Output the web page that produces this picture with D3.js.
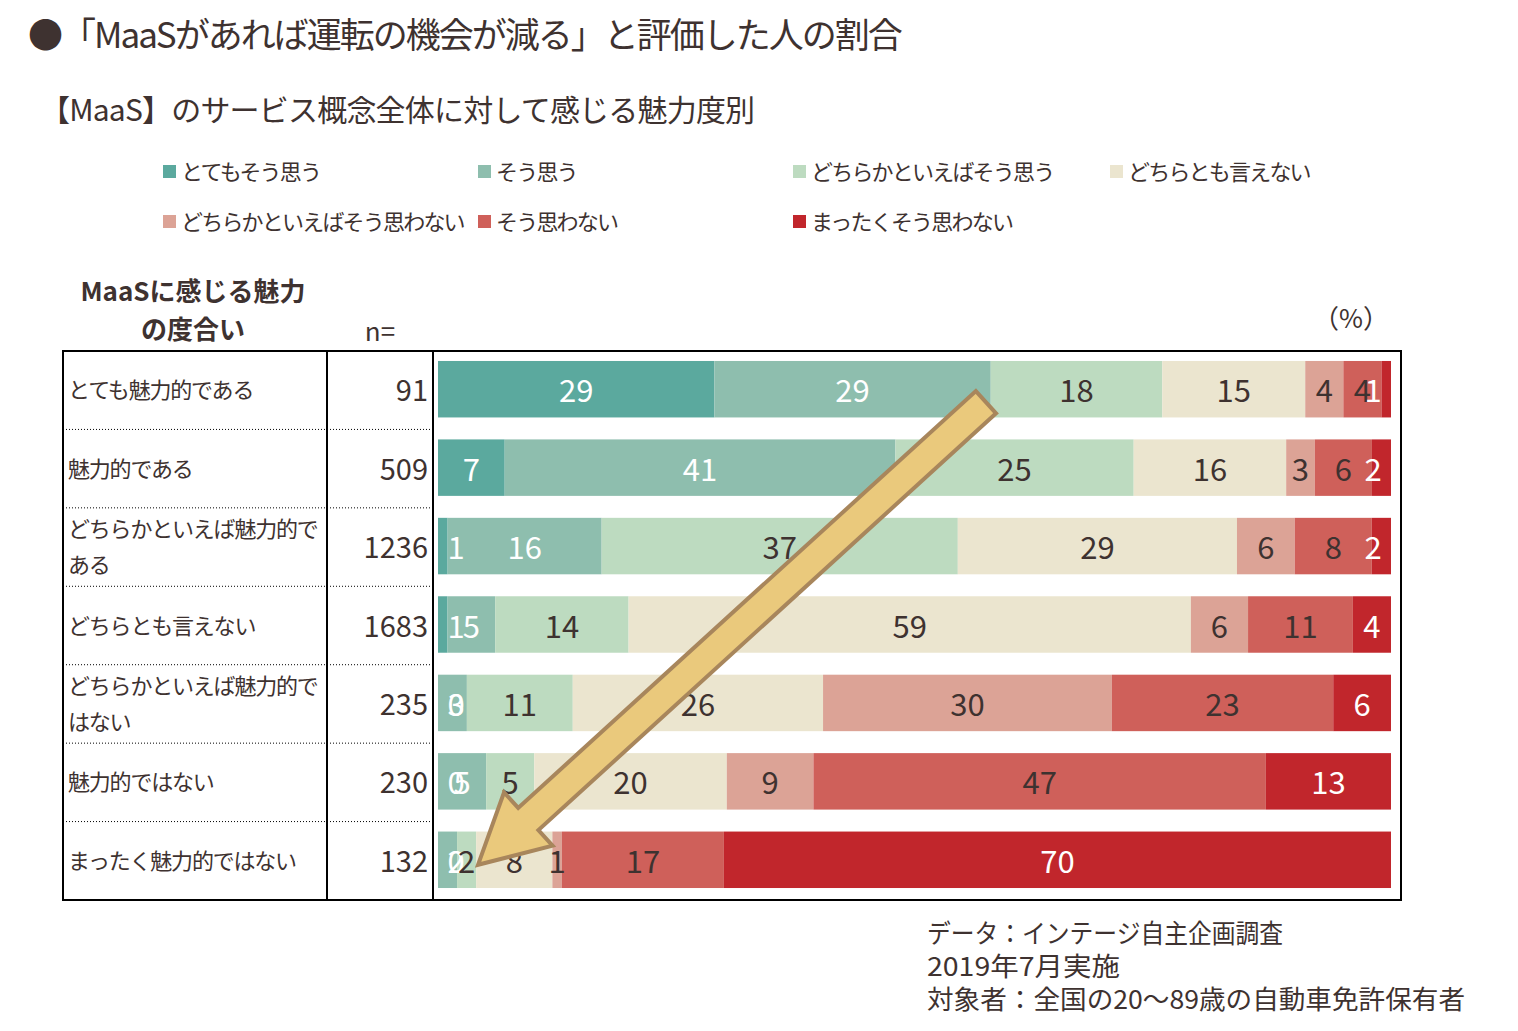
<!DOCTYPE html>
<html>
<head>
<meta charset="utf-8">
<script src="https://cdn.jsdelivr.net/npm/d3@7"></script>
<style>
  body { margin: 0; background: #fff; }
  text { font-family: "Noto Sans CJK JP", "Noto Sans", sans-serif; fill: #3e3230; }
</style>
</head>
<body>
<svg width="1518" height="1031"></svg>
<script>
// answer categories (legend order)
var categories = ["とてもそう思う", "そう思う", "どちらかといえばそう思う", "どちらとも言えない",
  "どちらかといえばそう思わない", "そう思わない", "まったくそう思わない"];
var colors = ["#5ba99e", "#8ebeae", "#bddbc0", "#ebe5cf", "#dca396", "#cf605a", "#c1262c"];
var labelColors = ["#fff", "#fff", "#3e3230", "#3e3230", "#3e3230", "#3e3230", "#fff"];

// rows: attractiveness of MaaS
var rowLabels = [["とても魅力的である"], ["魅力的である"], ["どちらかといえば魅力的で", "ある"],
  ["どちらとも言えない"], ["どちらかといえば魅力的で", "はない"], ["魅力的ではない"], ["まったく魅力的ではない"]];
var nValues = [91, 509, 1236, 1683, 235, 230, 132];

// percentages per row, in category order
var values = [
  [29, 29, 18, 15, 4, 4, 1],
  [7, 41, 25, 16, 3, 6, 2],
  [1, 16, 37, 29, 6, 8, 2],
  [1, 5, 14, 59, 6, 11, 4],
  [0, 3, 11, 26, 30, 23, 6],
  [0, 5, 5, 20, 9, 47, 13],
  [0, 2, 2, 8, 1, 17, 70]
];

var svg = d3.select("svg");

var table = { left: 63, right: 1401, top: 351, bottom: 900, col1: 327, col2: 433 };

var rows = d3.range(values.length);
var yRow = d3.scaleBand().domain(rows).range([table.top, table.bottom]);
var barH = yRow.bandwidth() * 0.72;

var xScale = d3.scaleLinear().domain([0, 1]).range([438, 1391]);

// titles
svg.append("text").attr("x", 28).attr("y", 48).attr("font-size", 35)
  .attr("letter-spacing", -2)
  .text("●「MaaSがあれば運転の機会が減る」と評価した人の割合");
svg.append("text").attr("x", 40).attr("y", 121).attr("font-size", 30)
  .attr("letter-spacing", -0.8)
  .text("【MaaS】のサービス概念全体に対して感じる魅力度別");

// legend
var legendPos = [[163, 172], [478, 172], [793, 172], [1110, 172], [163, 222], [478, 222], [793, 222]];
var legend = svg.append("g").selectAll("g").data(categories).join("g")
  .attr("transform", (d, i) => "translate(" + legendPos[i][0] + "," + legendPos[i][1] + ")");
legend.append("rect").attr("x", 0).attr("y", -7).attr("width", 13).attr("height", 13)
  .attr("fill", (d, i) => colors[i]);
legend.append("text").attr("x", 18).attr("y", 8).attr("font-size", 22)
  .attr("letter-spacing", -1.8).text(d => d);

// header
svg.append("text").attr("x", 193).attr("y", 301).attr("font-size", 26).attr("font-weight", "bold")
  .attr("text-anchor", "middle").text("MaaSに感じる魅力");
svg.append("text").attr("x", 193).attr("y", 339).attr("font-size", 26).attr("font-weight", "bold")
  .attr("text-anchor", "middle").text("の度合い");
svg.append("text").attr("x", 380).attr("y", 341).attr("font-size", 26)
  .attr("text-anchor", "middle").text("n=");
svg.append("text").attr("x", 1351).attr("y", 328).attr("font-size", 26)
  .attr("text-anchor", "middle").text("（%）");

// stacked bars (100% stacked)
var stackData = values.map((v, r) => {
  var o = { row: r };
  categories.forEach((c, i) => o[c] = v[i]);
  return o;
});
var series = d3.stack().keys(categories).offset(d3.stackOffsetExpand)(stackData);

var barG = svg.append("g");
series.forEach((s, ci) => {
  barG.append("g").selectAll("rect").data(s).join("rect")
    .attr("x", d => xScale(d[0]))
    .attr("width", d => xScale(d[1]) - xScale(d[0]))
    .attr("y", d => yRow(d.data.row) + (yRow.bandwidth() - barH) / 2 - 1)
    .attr("height", barH)
    .attr("fill", colors[ci]);
});

// value labels
series.forEach((s, ci) => {
  barG.append("g").selectAll("text").data(s).join("text")
    .attr("x", d => {
      var cx = (xScale(d[0]) + xScale(d[1])) / 2;
      return Math.min(Math.max(cx, xScale(0) + 18), xScale(1) - 18);
    })
    .attr("y", d => yRow(d.data.row) + yRow.bandwidth() / 2 + 12)
    .attr("text-anchor", "middle")
    .attr("font-size", 31)
    .style("fill", labelColors[ci])
    .text(d => d.data[categories[ci]]);
});

// table lines
var lines = svg.append("g");
lines.append("rect").attr("x", table.left).attr("y", table.top)
  .attr("width", table.right - table.left).attr("height", table.bottom - table.top)
  .attr("fill", "none").attr("stroke", "#000").attr("stroke-width", 2);
[table.col1, table.col2].forEach(x => {
  lines.append("line").attr("x1", x).attr("x2", x).attr("y1", table.top).attr("y2", table.bottom)
    .attr("stroke", "#000").attr("stroke-width", 2);
});
lines.selectAll("line.sep").data(rows.slice(1)).join("line").attr("class", "sep")
  .attr("x1", table.left).attr("x2", table.col2)
  .attr("y1", d => yRow(d)).attr("y2", d => yRow(d))
  .attr("stroke", "#000").attr("stroke-width", 1).attr("stroke-dasharray", "1,2");

// row labels
var rowG = svg.append("g").selectAll("g").data(rows).join("g");
rowG.each(function (r) {
  var g = d3.select(this);
  var lbl = rowLabels[r];
  var cy = yRow(r) + yRow.bandwidth() / 2;
  lbl.forEach((t, k) => {
    g.append("text").attr("x", 68)
      .attr("y", cy + 8 + (k - (lbl.length - 1) / 2) * 36)
      .attr("font-size", 22).attr("letter-spacing", -1.2).text(t);
  });
  g.append("text").attr("x", 428).attr("y", cy + 11).attr("text-anchor", "end")
    .attr("font-size", 29).text(nValues[r]);
});

// arrow annotation
var tail = [xScale(0.575), yRow(0) + yRow.bandwidth() / 2 + 12];
var tip = [xScale(0.042), yRow(6) + yRow.bandwidth() / 2 + 4];
var dx = tip[0] - tail[0], dy = tip[1] - tail[1];
var len = Math.sqrt(dx * dx + dy * dy);
var ang = Math.atan2(dy, dx) * 180 / Math.PI;
var sw = 15, hw = 36, hl = 68;
var arrowPts = [[0, -sw], [len - hl, -sw], [len - hl, -hw], [len, 0], [len - hl, hw], [len - hl, sw], [0, sw]];
svg.append("path")
  .attr("transform", "translate(" + tail[0] + "," + tail[1] + ") rotate(" + ang + ")")
  .attr("d", d3.line()(arrowPts) + "Z")
  .attr("fill", "#eac97c").attr("stroke", "#a8865c").attr("stroke-width", 4)
  .attr("stroke-linejoin", "miter");

// source note
var notes = ["データ：インテージ自主企画調査", "2019年7月実施", "対象者：全国の20～89歳の自動車免許保有者"];
var noteWidths = [356, 193, 538];
svg.append("g").selectAll("text").data(notes).join("text")
  .attr("x", 927).attr("y", (d, i) => 943 + i * 33)
  .attr("font-size", 26)
  .attr("textLength", (d, i) => noteWidths[i]).attr("lengthAdjust", "spacingAndGlyphs")
  .text(d => d);
</script>
</body>
</html>
